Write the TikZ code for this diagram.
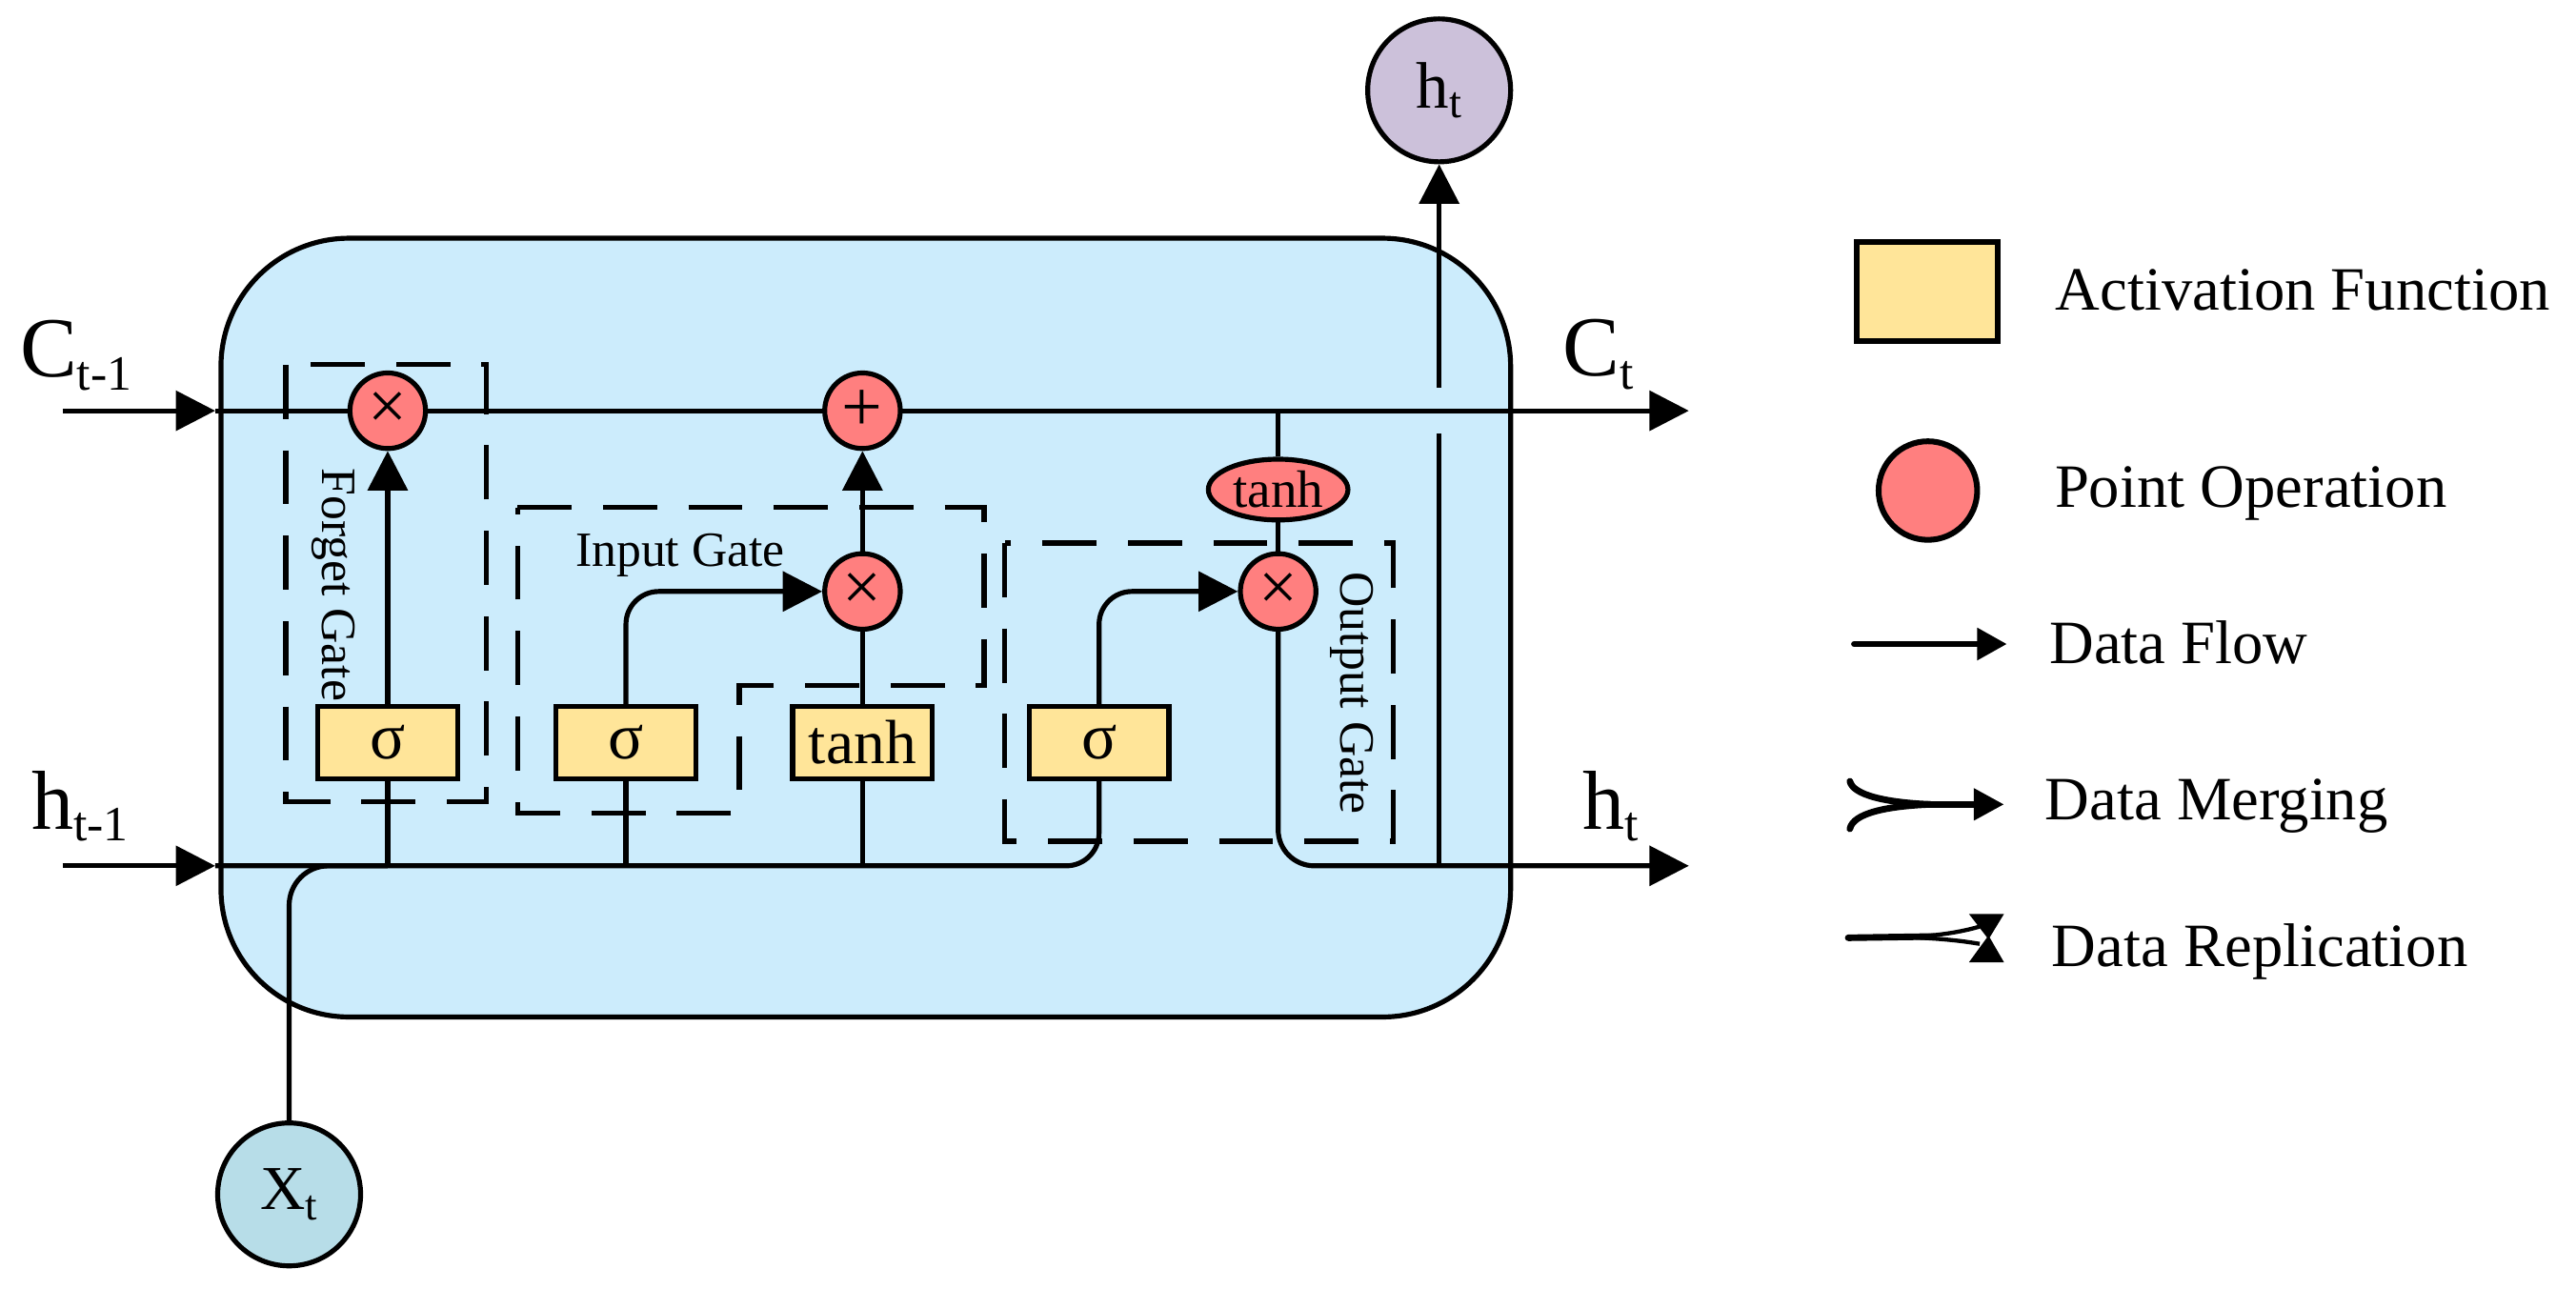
\documentclass[tikz,border=0pt]{standalone}
\usepackage{fontspec}
\setmainfont{Liberation Serif}
\usetikzlibrary{arrows.meta,shapes.geometric,calc}
\pgfdeclarelayer{bg}
\pgfdeclarelayer{wires}
\pgfsetlayers{bg,wires,main}
\definecolor{cellblue}{RGB}{204,236,252}
\definecolor{actyellow}{RGB}{255,229,153}
\definecolor{oppink}{RGB}{255,127,127}
\definecolor{outlav}{RGB}{204,193,218}
\definecolor{inblue}{RGB}{183,221,232}
\newcommand{\fs}[1]{\fontsize{#1pt}{#1pt}\selectfont}
\newcommand{\lblsub}[5]{{\fs{#1}#2\raisebox{-#5pt}{\fs{#3}#4}}}
\begin{document}
\begin{tikzpicture}[x=1pt,y=-1pt, line width=3pt,
  wire/.style={line width=3pt},
  arr/.style={-{Triangle[length=24pt,width=24pt]}},
  opnode/.style={circle, draw, fill=oppink, line width=3pt, minimum size=46pt, inner sep=0pt},
  actbox/.style={rectangle, draw, fill=actyellow, line width=3pt, minimum width=85pt, minimum height=44pt, inner sep=0pt},
  gatebox/.style={draw, line width=3pt, dash pattern=on 33pt off 19pt},
  gatelbl/.style={inner sep=0pt, font=\fs{30}},
  iocirc/.style={circle, draw, line width=3pt, minimum size=87pt, inner sep=0pt},
  legtxt/.style={anchor=base west, inner sep=0pt, font=\fs{37.5}},
  lbl/.style={anchor=base west, inner sep=0pt}
  ]
\useasboundingbox (0,0) rectangle (1568,784);

\begin{pgfonlayer}{bg}
\node[draw, fill=cellblue, rounded corners=78pt, minimum width=785pt, minimum height=474pt, line width=3pt] (cell) at (527,382) {};
\end{pgfonlayer}

% point operations
\node[opnode] (fx) at (236,250) {\fs{42}×};
\node[opnode] (plus) at (525,250) {\fs{44}+};
\node[opnode] (ix) at (525,360) {\fs{42}×};
\node[opnode] (ox) at (778,360) {\fs{42}×};
\node[ellipse, draw, fill=oppink, line width=3pt, minimum width=85pt, minimum height=37pt, inner sep=0pt] (th) at (778,298) {\fs{32}tanh};

% activation boxes
\node[actbox] (fs) at (236,452) {\fs{40}σ};
\node[actbox] (is) at (381,452) {\fs{40}σ};
\node[actbox] (tb) at (525,452) {\fs{38}tanh};
\node[actbox] (os) at (669,452) {\fs{40}σ};

% inputs / outputs
\node[iocirc, fill=outlav] (htop) at (876,55) {\lblsub{40}{h}{27}{t}{6}};
\node[iocirc, fill=inblue] (xt) at (176,727) {\lblsub{38}{X}{26}{t}{6}};

\node[lbl] (cinl) at (12,229.6) {\lblsub{52}{C}{30}{t-1}{8}};
\node[lbl] (hinl) at (19,504.5) {\lblsub{51}{h}{30}{t-1}{7}};
\node[lbl] (coutl) at (951,229) {\lblsub{52}{C}{30}{t}{8}};
\node[lbl] (houtl) at (963,505) {\lblsub{51}{h}{30}{t}{7}};

\coordinate (cs) at (38,250);
\coordinate (hs) at (38,527);
\coordinate (cw) at (131,250);
\coordinate (hw) at (131,527);
\coordinate (ce) at (1028,250);
\coordinate (he) at (1028,527);

\begin{pgfonlayer}{wires}
\begin{scope}[wire]
\draw[wire, arr] (cs) -- (cw);
\draw[wire, arr] (hs) -- (hw);
\draw[wire, arr] (cw) -- (ce);
\draw[wire, rounded corners=20pt] (hw) -- (os.south |- hw) -- (os.south);
\draw[wire, rounded corners=24pt] (xt.north) -- (xt.north |- hw) -- (fs.south |- hw);
\draw[wire] (fs.south) -- (fs.south |- hw);
\draw[wire] (is.south) -- (is.south |- hw);
\draw[wire] (tb.south) -- (tb.south |- hw);
\draw[wire, arr] (fs.north) -- (fx.south);
\draw[wire, arr, rounded corners=20pt] (is.north) -- (is.north |- ix) -- (ix.west);
\draw[wire] (tb.north) -- (ix.south);
\draw[wire, arr] (ix.north) -- (plus.south);
\draw[wire, arr, rounded corners=20pt] (os.north) -- (os.north |- ox) -- (ox.west);
\draw[wire] (th.north) -- (th.north |- ce);
\draw[wire] (th.south) -- (ox.north);
\draw[wire, arr, rounded corners=22pt] (ox.south) -- (ox.south |- he) -- (he);
\coordinate (tap) at (htop.south |- hw);
\coordinate (hopb) at ($(htop.south |- cw)+(0,14)$);
\coordinate (hopa) at ($(htop.south |- cw)+(0,-14)$);
\draw[wire] (tap) -- (hopb);
\draw[wire, arr] (hopa) -- (htop.south);
\end{scope}
\end{pgfonlayer}

% gates
\draw[gatebox] (174,222) rectangle (296,488);
\draw[gatebox] (315,309) -- (599,309) -- (599,417) -- (450,417) -- (450,495) -- (315,495) -- cycle;
\draw[gatebox] (611.5,330.5) rectangle (848,512);
\node[gatelbl, rotate=-90] (fgl) at (203,356) {Forget Gate};
\node[gatelbl] (igl) at (414,338) {Input Gate};
\node[gatelbl, rotate=-90] (ogl) at (823,422) {Output Gate};

% legend
\node[actbox, minimum width=86pt, minimum height=60pt, line width=3.5pt] (lega) at (1173,177.5) {};
\node[legtxt] (legat) at (1251,189) {Activation Function};
\node[opnode, minimum size=60pt, line width=3.5pt] (legp) at (1173.5,298.6) {};
\node[legtxt] (legpt) at (1250.6,309) {Point Operation};
\coordinate (lfa) at (1128.5,392);
\coordinate (lfb) at (1221.5,392);
\draw[line width=3.5pt, line cap=round, -{Triangle[length=18pt,width=19pt]}] (lfa) -- (lfb);
\node[legtxt] (legft) at (1247.3,404) {Data Flow};
\coordinate (lm1) at (1126,475.5);
\coordinate (lm2) at (1126,504.5);
\coordinate (lmm) at (1175,489.6);
\coordinate (lme) at (1219.8,489.6);
\draw[line width=4pt, line cap=round] (lm1) .. controls (1128,484) and (1148,488.5) .. (lmm);
\draw[line width=4pt, line cap=round] (lm2) .. controls (1128,495) and (1148,490.7) .. (lmm);
\draw[line width=4pt, -{Triangle[length=18.4pt,width=18.7pt]}] (lmm) -- (lme);
\node[legtxt] (legmt) at (1244.7,499) {Data Merging};
\coordinate (lr1) at (1125,570.8);
\coordinate (lr2) at (1177,570);
\draw[line width=4pt, line cap=round] (lr1) -- (lr2);
\draw[line width=2.5pt] (1165,570.2) .. controls (1185,569) and (1196,566.5) .. (1205,564);
\draw[line width=2.5pt] (1165,570.6) .. controls (1185,571.5) and (1196,573) .. (1205,574.5);
\fill (1198.5,556.3) -- (1219.8,556.3) -- (1211.1,570.6) -- (1219.8,585.7) -- (1198.5,585.7) -- (1209.5,570.6) -- cycle;
\node[legtxt] (legrt) at (1248.8,588) {Data Replication};
\end{tikzpicture}
\end{document}
